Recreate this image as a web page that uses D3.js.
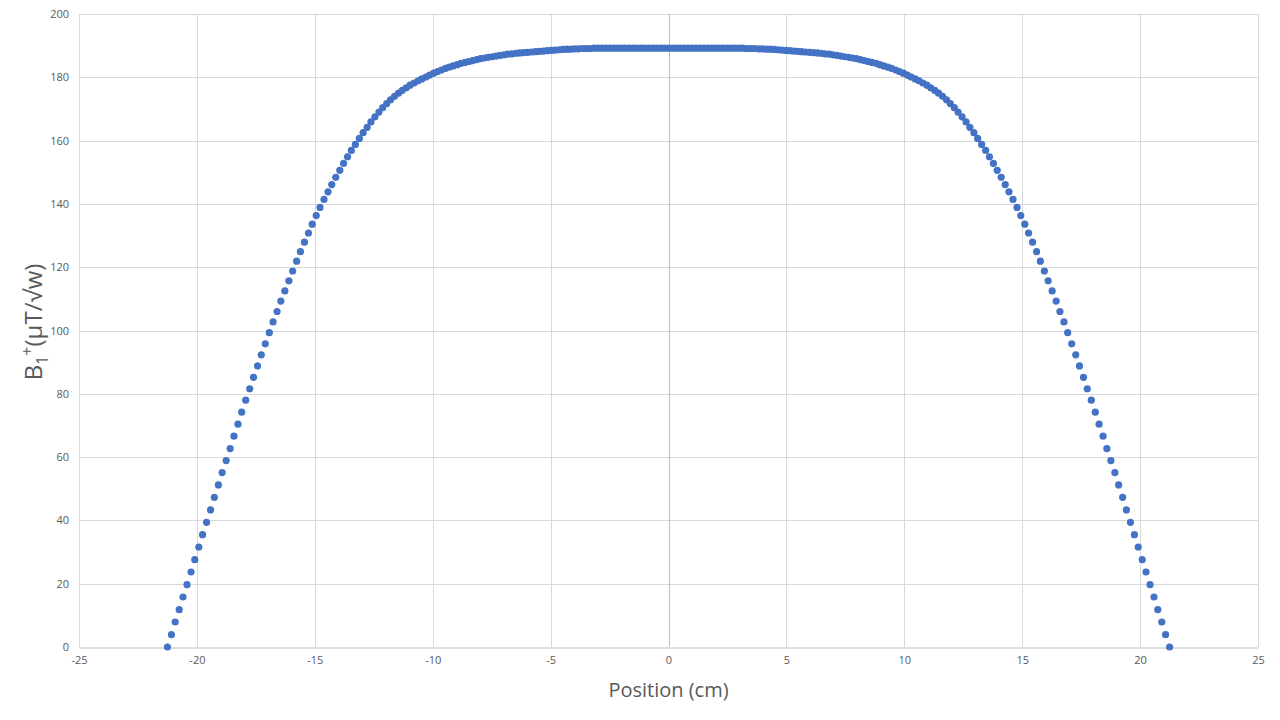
<!DOCTYPE html>
<html>
<head>
<meta charset="utf-8">
<script src="https://cdn.jsdelivr.net/npm/d3@7"></script>
<style>
  html, body { margin: 0; padding: 0; background: #ffffff; }
  svg { display: block; }
  text { font-family: "Open Sans", "Noto Sans", "Liberation Sans", sans-serif; fill: #595959; }
</style>
</head>
<body>
<svg id="chart" width="1280" height="720"></svg>
<script>
// ---- Data ----
const positionCm = [
  -21.25,-21.08,-20.92,-20.75,-20.59,-20.42,-20.25,-20.09,-19.92,-19.76,
  -19.59,-19.42,-19.26,-19.09,-18.93,-18.76,-18.59,-18.43,-18.26,-18.10,
  -17.93,-17.76,-17.60,-17.43,-17.27,-17.10,-16.93,-16.77,-16.60,-16.44,
  -16.27,-16.10,-15.94,-15.77,-15.61,-15.44,-15.27,-15.11,-14.94,-14.78,
  -14.61,-14.44,-14.28,-14.11,-13.94,-13.78,-13.61,-13.45,-13.28,-13.11,
  -12.95,-12.78,-12.62,-12.45,-12.28,-12.12,-11.95,-11.79,-11.62,-11.45,
  -11.29,-11.12,-10.96,-10.79,-10.62,-10.46,-10.29,-10.13,-9.96,-9.79,
  -9.63,-9.46,-9.30,-9.13,-8.96,-8.80,-8.63,-8.47,-8.30,-8.13,
  -7.97,-7.80,-7.64,-7.47,-7.30,-7.14,-6.97,-6.81,-6.64,-6.47,
  -6.31,-6.14,-5.98,-5.81,-5.64,-5.48,-5.31,-5.15,-4.98,-4.81,
  -4.65,-4.48,-4.32,-4.15,-3.98,-3.82,-3.65,-3.49,-3.32,-3.15,
  -2.99,-2.82,-2.66,-2.49,-2.32,-2.16,-1.99,-1.83,-1.66,-1.49,
  -1.33,-1.16,-1.00,-0.83,-0.66,-0.50,-0.33,-0.17,0.00,
  0.17,0.33,0.50,0.66,0.83,1.00,1.16,1.33,
  1.49,1.66,1.83,1.99,2.16,2.32,2.49,2.66,2.82,2.99,
  3.15,3.32,3.49,3.65,3.82,3.98,4.15,4.32,4.48,4.65,
  4.81,4.98,5.15,5.31,5.48,5.64,5.81,5.98,6.14,6.31,
  6.47,6.64,6.81,6.97,7.14,7.30,7.47,7.64,7.80,7.97,
  8.13,8.30,8.47,8.63,8.80,8.96,9.13,9.30,9.46,9.63,
  9.79,9.96,10.13,10.29,10.46,10.62,10.79,10.96,11.12,11.29,
  11.45,11.62,11.79,11.95,12.12,12.28,12.45,12.62,12.78,12.95,
  13.11,13.28,13.45,13.61,13.78,13.94,14.11,14.28,14.44,14.61,
  14.78,14.94,15.11,15.27,15.44,15.61,15.77,15.94,16.10,16.27,
  16.44,16.60,16.77,16.93,17.10,17.27,17.43,17.60,17.76,17.93,
  18.10,18.26,18.43,18.59,18.76,18.93,19.09,19.26,19.42,19.59,
  19.76,19.92,20.09,20.25,20.42,20.59,20.75,20.92,21.08,21.25
];

const b1Values = [
  0,3.9,7.9,11.8,15.8,19.7,23.7,27.6,31.6,35.5,
  39.4,43.3,47.3,51.2,55.1,58.9,62.7,66.6,70.4,74.2,
  78.0,81.6,85.2,88.8,92.3,95.8,99.3,102.7,106.0,109.3,
  112.5,115.7,118.8,121.9,124.9,127.9,130.8,133.6,136.3,138.9,
  141.4,143.8,146.1,148.4,150.6,152.8,154.9,156.9,158.8,160.7,
  162.5,164.2,165.9,167.5,169.0,170.4,171.7,172.9,174.0,175.0,
  175.9,176.7,177.5,178.2,178.9,179.5,180.1,180.7,181.3,181.8,
  182.3,182.8,183.2,183.6,184.0,184.4,184.7,185.0,185.3,185.6,
  185.9,186.1,186.3,186.5,186.7,186.9,187.1,187.3,187.4,187.6,
  187.7,187.8,187.9,188.0,188.1,188.2,188.3,188.4,188.5,188.6,
  188.7,188.8,188.9,188.9,189.0,189.0,189.1,189.1,189.1,189.2,
  189.2,189.2,189.2,189.2,189.2,189.2,189.2,189.2,189.2,189.2,
  189.2,189.2,189.2,189.2,189.2,189.2,189.2,189.2,189.2,
  189.2,189.2,189.2,189.2,189.2,189.2,189.2,189.2,
  189.2,189.2,189.2,189.2,189.2,189.2,189.2,189.2,189.2,189.2,
  189.2,189.1,189.1,189.1,189.0,189.0,188.9,188.9,188.8,188.7,
  188.6,188.5,188.4,188.3,188.2,188.1,188.0,187.9,187.8,187.7,
  187.6,187.4,187.3,187.1,186.9,186.7,186.5,186.3,186.1,185.9,
  185.6,185.3,185.0,184.7,184.4,184.0,183.6,183.2,182.8,182.3,
  181.8,181.3,180.7,180.1,179.5,178.9,178.2,177.5,176.7,175.9,
  175.0,174.0,172.9,171.7,170.4,169.0,167.5,165.9,164.2,162.5,
  160.7,158.8,156.9,154.9,152.8,150.6,148.4,146.1,143.8,141.4,
  138.9,136.3,133.6,130.8,127.9,124.9,121.9,118.8,115.7,112.5,
  109.3,106.0,102.7,99.3,95.8,92.3,88.8,85.2,81.6,78.0,
  74.2,70.4,66.6,62.7,58.9,55.1,51.2,47.3,43.3,39.4,
  35.5,31.6,27.6,23.7,19.7,15.8,11.8,7.9,3.9,0
];

const xTicks = [-25, -20, -15, -10, -5, 0, 5, 10, 15, 20, 25];
const yTicks = [0, 20, 40, 60, 80, 100, 120, 140, 160, 180, 200];
const xTitle = "Position (cm)";

// ---- Layout ----
const plot = { left: 79, right: 1258, top: 14, bottom: 647 };
const svg = d3.select("#chart");

const x = d3.scaleLinear().domain([-25, 25]).range([plot.left, plot.right]);
const y = d3.scaleLinear().domain([0, 200]).range([plot.bottom, plot.top]);

// gridlines
const grid = svg.append("g");
grid.selectAll("line.h").data(yTicks.filter(d => d !== 0)).join("line")
  .attr("x1", plot.left).attr("x2", plot.right)
  .attr("y1", d => Math.round(y(d)) + 0.5).attr("y2", d => Math.round(y(d)) + 0.5)
  .attr("stroke", "#d9d9d9").attr("stroke-width", 1);
grid.selectAll("line.v").data(xTicks.filter(d => d !== 0)).join("line")
  .attr("x1", d => Math.round(x(d)) + 0.5).attr("x2", d => Math.round(x(d)) + 0.5)
  .attr("y1", plot.top).attr("y2", plot.bottom)
  .attr("stroke", "#d9d9d9").attr("stroke-width", 1);

// axes
const tickFont = "\"Open Sans\", \"Noto Sans\", sans-serif";
const xAxis = d3.axisBottom(x).tickValues(xTicks).tickSize(0).tickPadding(9).tickFormat(d => String(d));
const gx = svg.append("g").attr("transform", `translate(0,${Math.round(y(0)) + 0.5})`).call(xAxis);
gx.select(".domain").attr("stroke", "#bfbfbf");
gx.selectAll("text").attr("font-size", 11).attr("fill", "#595959").attr("font-family", tickFont);

const yAxis = d3.axisLeft(y).tickValues(yTicks).tickSize(0).tickPadding(0).tickFormat(d => String(d));
const gy = svg.append("g").attr("transform", `translate(${plot.left - 10},0)`).call(yAxis);
gy.select(".domain").remove();
gy.selectAll("text").attr("font-size", 11).attr("fill", "#595959").attr("font-family", tickFont);

svg.append("line")
  .attr("x1", Math.round(x(0)) + 0.5).attr("x2", Math.round(x(0)) + 0.5)
  .attr("y1", plot.top).attr("y2", plot.bottom)
  .attr("stroke", "#bfbfbf").attr("stroke-width", 1);

// points
const pts = positionCm.map((p, i) => ({ p, v: b1Values[i] }));
svg.append("g").selectAll("circle").data(pts).join("circle")
  .attr("cx", d => x(d.p))
  .attr("cy", d => y(d.v))
  .attr("r", 3.6)
  .attr("fill", "#4472C4");

// axis titles
svg.append("text")
  .attr("x", x(0)).attr("y", 697)
  .attr("text-anchor", "middle")
  .attr("font-size", 20)
  .text(xTitle);

const yt = svg.append("text")
  .attr("transform", `translate(42,322) rotate(-90)`)
  .attr("text-anchor", "middle")
  .attr("font-size", 24);
yt.append("tspan").text("B");
yt.append("tspan").attr("font-size", 16).attr("dy", 6).text("1");
yt.append("tspan").attr("font-size", 16).attr("dy", -15).text("+");
yt.append("tspan").attr("dy", 9).text("(μT/√w)");
</script>
</body>
</html>
